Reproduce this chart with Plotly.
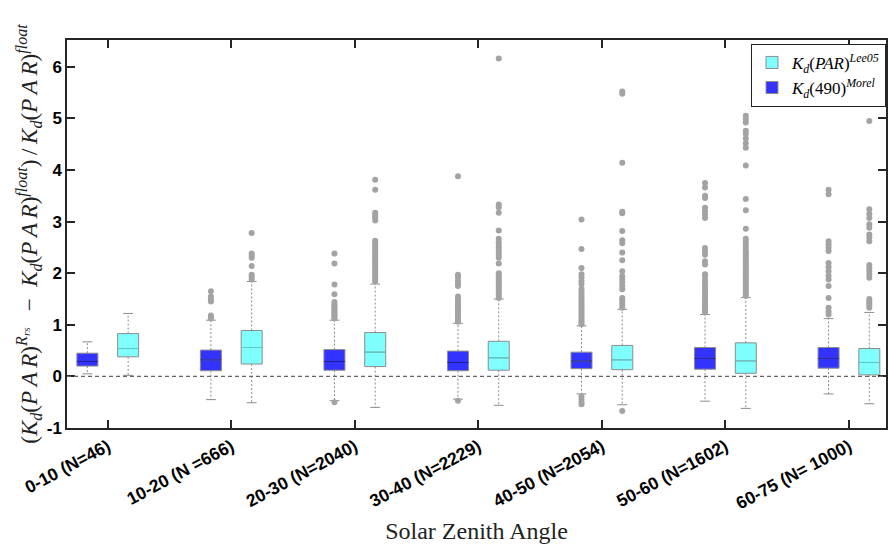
import plotly.graph_objects as go

# ---------------- data ----------------
categories = ["0-10 (N=46)", "10-20 (N =666)", "20-30 (N=2040)", "30-40 (N=2229)",
              "40-50 (N=2054)", "50-60 (N=1602)", "60-75 (N= 1000)"]

# Kd(490) Morel (blue)
morel_q1 = [0.20, 0.11, 0.12, 0.11, 0.15, 0.14, 0.16]
morel_med = [0.29, 0.32, 0.29, 0.27, 0.30, 0.35, 0.35]
morel_q3 = [0.45, 0.51, 0.52, 0.49, 0.47, 0.56, 0.56]
morel_lo = [0.05, -0.45, -0.47, -0.44, -0.34, -0.48, -0.34]
morel_hi = [0.67, 1.09, 1.09, 1.03, 0.98, 1.20, 1.12]
morel_out = [
    [],
    [1.12, 1.15, 1.18, 1.45, 1.50, 1.55, 1.65],
    [-0.50, 1.12, 1.15, 1.18, 1.21, 1.24, 1.27, 1.30, 1.33, 1.36, 1.40, 1.44, 1.59, 1.78, 2.19, 2.38],
    [-0.47, 1.06, 1.10, 1.14, 1.18, 1.22, 1.26, 1.30, 1.34, 1.38, 1.42, 1.47, 1.52, 1.55, 1.75,
     1.80, 1.86, 1.92, 1.97, 3.88],
    [-0.39, -0.45, -0.50, -0.54, 1.01, 1.05, 1.09, 1.13, 1.17, 1.21, 1.25, 1.29, 1.33, 1.37, 1.41,
     1.45, 1.50, 1.55, 1.60, 1.65, 1.70, 1.79, 1.85, 1.92, 1.98, 2.10, 2.47, 3.04],
    [1.24, 1.28, 1.32, 1.36, 1.40, 1.44, 1.48, 1.52, 1.58, 1.64, 1.70, 1.76, 1.81, 1.87, 1.94,
     1.98, 2.17, 2.23, 2.36, 2.43, 2.49, 3.07, 3.14, 3.20, 3.27, 3.46, 3.50, 3.66, 3.75],
    [1.20, 1.26, 1.33, 1.52, 1.75, 1.88, 1.95, 2.04, 2.12, 2.20, 2.43, 2.50, 2.56, 2.62, 3.53, 3.62],
]

# Kd(PAR) Lee05 (cyan)
lee_q1 = [0.38, 0.24, 0.19, 0.12, 0.13, 0.06, 0.03]
lee_med = [0.54, 0.56, 0.47, 0.36, 0.32, 0.30, 0.27]
lee_q3 = [0.83, 0.89, 0.85, 0.68, 0.60, 0.65, 0.54]
lee_lo = [0.02, -0.51, -0.60, -0.56, -0.55, -0.62, -0.53]
lee_hi = [1.22, 1.84, 1.79, 1.50, 1.30, 1.53, 1.24]
lee_out = [
    [],
    [1.88, 1.93, 1.97, 2.14, 2.30, 2.34, 2.38, 2.78],
    [1.84, 1.88, 1.92, 1.96, 2.00, 2.04, 2.08, 2.12, 2.16, 2.20, 2.24, 2.28, 2.32, 2.36, 2.40,
     2.44, 2.48, 2.52, 2.56, 2.60, 2.63, 3.02, 3.08, 3.13, 3.17, 3.62, 3.81],
    [1.52, 1.56, 1.60, 1.64, 1.68, 1.72, 1.76, 1.80, 1.84, 1.88, 1.92, 1.96, 2.00, 2.19, 2.30,
     2.35, 2.40, 2.45, 2.50, 2.55, 2.60, 2.67, 2.83, 3.17, 3.28, 3.33, 6.16],
    [-0.67, 1.33, 1.38, 1.43, 1.48, 1.52, 1.69, 1.75, 1.82, 1.88, 1.94, 2.04, 2.25, 2.40, 2.58,
     2.64, 2.82, 3.16, 3.19, 4.14, 5.48, 5.52],
    [1.56, 1.60, 1.64, 1.68, 1.72, 1.76, 1.80, 1.84, 1.88, 1.92, 1.96, 2.00, 2.04, 2.08, 2.12,
     2.16, 2.20, 2.24, 2.28, 2.32, 2.36, 2.40, 2.43, 2.49, 2.55, 2.61, 2.67, 2.86, 3.22, 3.44,
     4.09, 4.43, 4.52, 4.61, 4.70, 4.76, 4.92, 4.98, 5.05],
    [1.33, 1.38, 1.42, 1.46, 1.50, 1.91, 1.97, 2.04, 2.10, 2.16, 2.62, 2.69, 2.75, 2.88, 2.95,
     3.07, 3.15, 3.24, 4.95, 5.50],
]

y_ticks = [-1, 0, 1, 2, 3, 4, 5, 6]

# ---------------- styling ----------------
OFFSET = 0.165
BOX_W = 0.17
CAP_HALF = 0.04
GRAY = "#8c8c8c"
OUT_GRAY = "#a3a3a3"
AX = "#262626"
SERIF = "Liberation Serif"
SANS = "Liberation Sans"
TS = "\u2009"  # thin space

series = [
    dict(name="<i>K</i><sub><i>d</i></sub>(<i>PAR</i>)<sup><i>Lee05</i></sup>",
         off=OFFSET, fill="#80ffff", med_col="#5cc8c8",
         q1=lee_q1, med=lee_med, q3=lee_q3, lo=lee_lo, hi=lee_hi, out=lee_out),
    dict(name="<i>K</i><sub><i>d</i></sub>(490)<sup><i>Morel</i></sup>",
         off=-OFFSET, fill="#3333ff", med_col="#1a1a9c",
         q1=morel_q1, med=morel_med, q3=morel_q3, lo=morel_lo, hi=morel_hi, out=morel_out),
]

fig = go.Figure()

# whiskers (dotted) and caps
for s in series:
    wx, wy, cx, cy = [], [], [], []
    for k in range(len(categories)):
        x = k + s["off"]
        wx += [x, x, None, x, x, None]
        wy += [s["q3"][k], s["hi"][k], None, s["q1"][k], s["lo"][k], None]
        cx += [x - CAP_HALF, x + CAP_HALF, None, x - CAP_HALF, x + CAP_HALF, None]
        cy += [s["hi"][k], s["hi"][k], None, s["lo"][k], s["lo"][k], None]
    fig.add_trace(go.Scatter(x=wx, y=wy, mode="lines", showlegend=False, hoverinfo="skip",
                             line=dict(color=GRAY, width=1, dash="2px,2px")))
    fig.add_trace(go.Scatter(x=cx, y=cy, mode="lines", showlegend=False, hoverinfo="skip",
                             line=dict(color=GRAY, width=1)))

# boxes
for s in series:
    xs = [k + s["off"] for k in range(len(categories))]
    fig.add_trace(go.Box(
        x=xs, q1=s["q1"], median=s["med"], q3=s["q3"],
        lowerfence=s["q1"], upperfence=s["q3"],
        width=BOX_W, whiskerwidth=0, boxpoints=False,
        fillcolor=s["fill"], line=dict(color=GRAY, width=1),
        name=s["name"], showlegend=True,
    ))

# medians
for s in series:
    mx, my = [], []
    for k in range(len(categories)):
        x = k + s["off"]
        mx += [x - BOX_W / 2, x + BOX_W / 2, None]
        my += [s["med"][k], s["med"][k], None]
    fig.add_trace(go.Scatter(x=mx, y=my, mode="lines", showlegend=False, hoverinfo="skip",
                             line=dict(color=s["med_col"], width=1)))

# outliers
for s in series:
    ox, oy = [], []
    for k in range(len(categories)):
        for v in s["out"][k]:
            ox.append(k + s["off"])
            oy.append(v)
    fig.add_trace(go.Scatter(x=ox, y=oy, mode="markers", showlegend=False, hoverinfo="skip",
                             marker=dict(color=OUT_GRAY, size=6, line=dict(width=0))))

KPAR = f"<i>K</i><sub><i>d</i></sub>(<i>P{TS}A{TS}R</i>)"
ytitle = (f"({KPAR}<sup><i>R<sub>rs</sub></i></sup>{TS}\u2002−\u2002{KPAR}<sup><i>float</i></sup>)"
          f"{TS}/{TS}{KPAR}<sup><i>float</i></sup>")

fig.update_layout(
    width=889, height=550,
    margin=dict(l=67, r=1, t=40, b=122),
    paper_bgcolor="white", plot_bgcolor="white",
    boxmode="overlay",
    legend=dict(x=1, y=0.99, xanchor="right", yanchor="top",
                bordercolor="#222", borderwidth=1, bgcolor="white",
                font=dict(family=SERIF, size=17, color="black"),
                tracegroupgap=0, itemwidth=30),
    xaxis=dict(range=[-0.33, 6.3], tickvals=list(range(len(categories))), ticktext=categories,
               tickangle=-28, ticks="inside", ticklen=8, tickwidth=1.5, tickcolor=AX,
               showline=True, linecolor=AX, linewidth=1.5, mirror="ticks",
               showgrid=False, zeroline=False,
               tickfont=dict(family=SANS, size=17.5, color="black", weight="bold"),
               title=dict(text="Solar Zenith Angle", font=dict(family=SERIF, size=24, color="#222"),
                          standoff=10)),
    yaxis=dict(range=[-1.0, 6.52], tickvals=y_ticks, ticktext=[str(v) for v in y_ticks],
               ticks="inside", ticklen=8, tickwidth=1.5, tickcolor=AX,
               showline=True, linecolor=AX, linewidth=1.5, mirror="ticks",
               showgrid=False, zeroline=False,
               tickfont=dict(family=SANS, size=17, color="black", weight="bold"),
               title=dict(text=ytitle, font=dict(family=SERIF, size=23, color="#222"),
                          standoff=3)),
    shapes=[dict(type="line", xref="paper", yref="y", x0=0, x1=1, y0=0, y1=0,
                 line=dict(color="#666666", width=1.3, dash="4px,3px"), layer="above")],
)

fig.write_html("out.html")
